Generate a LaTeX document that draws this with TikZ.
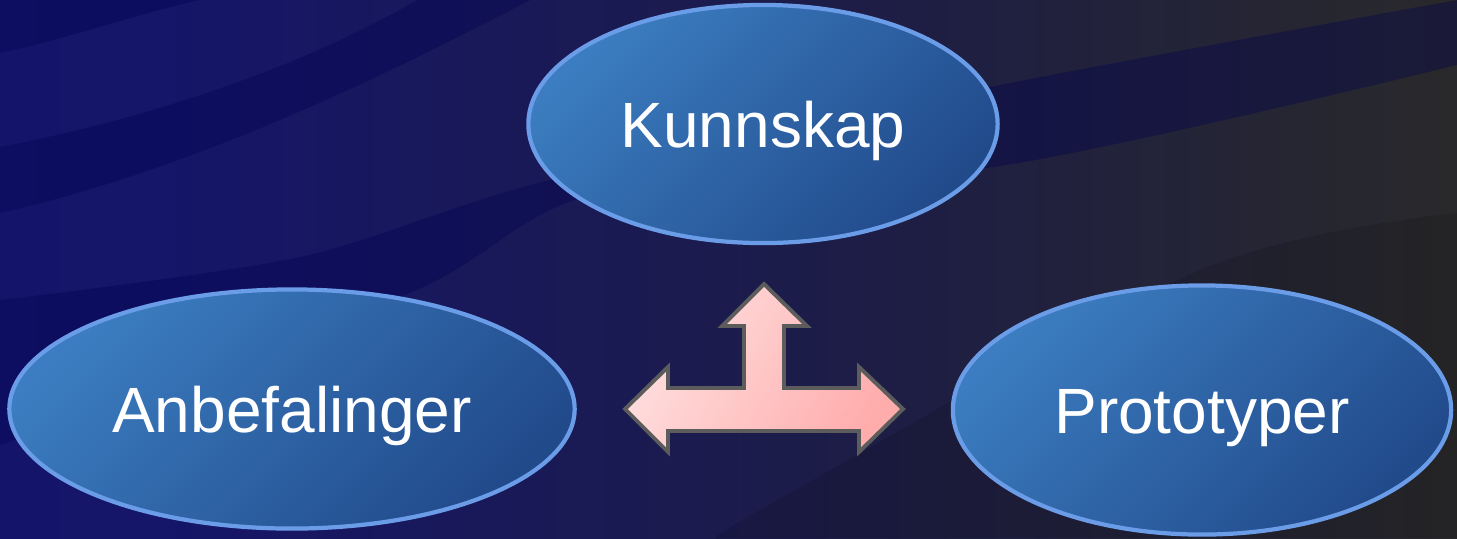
\documentclass[tikz,border=0pt]{standalone}
\usepackage{fontspec}
\setmainfont{Liberation Sans}
\usetikzlibrary{shapes.geometric}
\definecolor{bgnavy}{HTML}{10106E}
\definecolor{bgnavyb}{HTML}{15156A}
\definecolor{bgslate}{HTML}{1D1D46}
\definecolor{bggray}{HTML}{29292B}
\definecolor{bandblue}{HTML}{000050}
\definecolor{ellhi}{HTML}{3B7DC0}
\definecolor{elllo}{HTML}{214A8B}
\definecolor{ellrim}{HTML}{6A9CE8}
\definecolor{pinkhi}{HTML}{FFE0E0}
\definecolor{pinklo}{HTML}{FFACAC}
\definecolor{arrowrim}{HTML}{5C5C5C}
\pgfdeclarehorizontalshading{bgsweep}{100bp}{color(0bp)=(bgnavy); color(30bp)=(bgnavyb);
  color(55bp)=(bgslate); color(75bp)=(bggray); color(100bp)=(bggray)}

\begin{document}
\begin{tikzpicture}[x=0.01cm,y=0.01cm]
  \tikzset{topic/.style={ellipse,draw=ellrim,line width=1.2pt,top color=ellhi,bottom color=elllo,shading angle=45,
                         text=white,font=\fontsize{18.2}{22}\selectfont,text height=13.1pt,text depth=0pt,inner sep=0pt},
           band/.style={fill=bandblue,fill opacity=0.35,draw=none}}
  \useasboundingbox (0,0) rectangle (1457,538);
  \shade[shading=bgsweep] (0,0) rectangle (1457,538);
  \fill[band] (0,538) -- (0,485) .. controls (70,500) and (140,525) .. (200,538) -- cycle;
  \fill[band] (0,391) .. controls (150,420) and (300,470) .. (417,538) -- (530,538)
              .. controls (400,470) and (200,370) .. (0,325) -- cycle;
  \fill[band] plot[smooth,tension=0.5] coordinates {(0,238) (300,281) (550,358) (1000,453) (1457,538)}
              -- plot[smooth,tension=0.5] coordinates {(1457,473) (1000,372) (600,345) (410,245) (0,93)} -- cycle;
  \fill[black,fill opacity=0.12] plot[smooth] coordinates {(720,0) (760,28) (1200,268) (1457,325)}
              -- (1457,0) -- cycle;

  \node[topic,minimum width=4.69cm,minimum height=2.38cm] (Kunn) at (763,414) {Kunnskap};
  \node[topic,minimum width=5.65cm,minimum height=2.39cm] (Anbef) at (292,129) {Anbefalinger};
  \node[topic,minimum width=4.98cm,minimum height=2.49cm] (Proto) at (1202,128) {Prototyper};

  \coordinate (hub) at (764,129);
  \shadedraw[draw=arrowrim,line width=1.1pt,line join=miter,top color=pinkhi,bottom color=pinklo,shading angle=60]
    (625,129) -- (668,171) -- (668,150) -- (744,150) -- (744,212) -- (722,212) -- (764,254)
    -- (807,212) -- (784,212) -- (784,150) -- (859,150) -- (859,171) -- (903,129)
    -- (859,86) -- (859,107) -- (668,107) -- (668,86) -- cycle;
\end{tikzpicture}
\end{document}
